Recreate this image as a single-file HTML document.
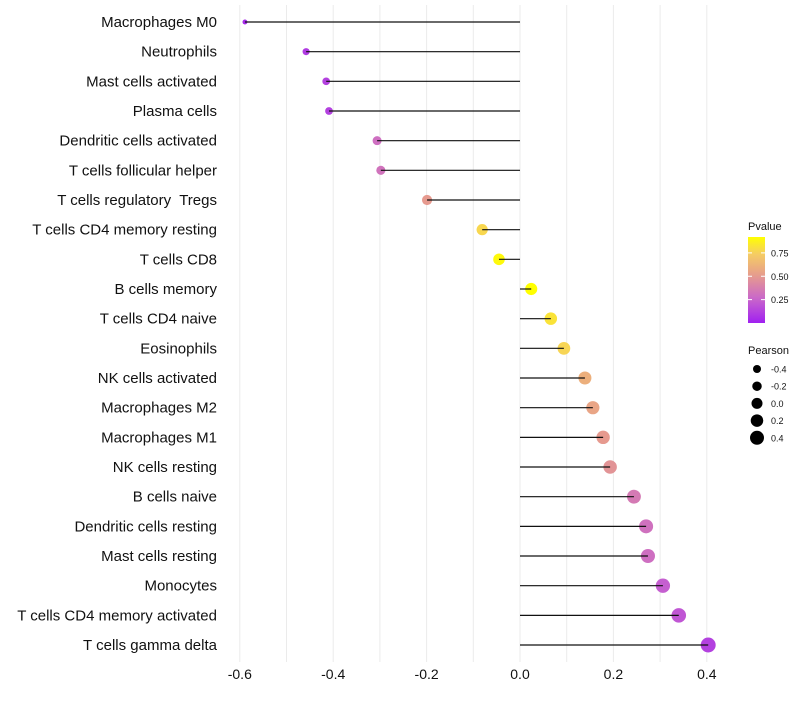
<!DOCTYPE html>
<html><head><meta charset="utf-8"><style>
body{margin:0;background:#fff;font-family:"Liberation Sans",sans-serif;}
svg text{font-family:"Liberation Sans",sans-serif;white-space:pre;}
</style></head><body>
<svg id="chart" width="800" height="700"></svg>
<script>
const categories=["Macrophages M0","Neutrophils","Mast cells activated","Plasma cells","Dendritic cells activated","T cells follicular helper","T cells regulatory  Tregs","T cells CD4 memory resting","T cells CD8","B cells memory","T cells CD4 naive","Eosinophils","NK cells activated","Macrophages M2","Macrophages M1","NK cells resting","B cells naive","Dendritic cells resting","Mast cells resting","Monocytes","T cells CD4 memory activated","T cells gamma delta"];
const pearson=[-0.589,-0.458,-0.415,-0.409,-0.306,-0.298,-0.199,-0.081,-0.045,0.024,0.066,0.094,0.139,0.156,0.178,0.193,0.244,0.27,0.274,0.306,0.340,0.403];
const pvalue=[0.04,0.1,0.12,0.12,0.3,0.32,0.5,0.78,0.9,0.92,0.82,0.77,0.6,0.55,0.5,0.47,0.35,0.31,0.3,0.23,0.2,0.12];
const xTicks=[-0.6,-0.4,-0.2,0.0,0.2,0.4];
const xTickLabels=["-0.6","-0.4","-0.2","0.0","0.2","0.4"];
const colorTicks=[0.25,0.5,0.75];
const sizeLegend=[-0.4,-0.2,0.0,0.2,0.4];

const NS="http://www.w3.org/2000/svg";
const svg=document.getElementById('chart');
function mk(tag,attrs,parent){const e=document.createElementNS(NS,tag);for(const k in attrs)e.setAttribute(k,attrs[k]);(parent||svg).appendChild(e);return e;}
const x=v=>520+v*467;
const y=i=>22+i*29.667;
const vmin=Math.min(...pearson),vmax=Math.max(...pearson);
const r=v=>Math.sqrt(6+Math.max(0,(v-vmin)/(vmax-vmin))*50);
const stops=[[0,[160,32,240]],[0.25,[200,100,205]],[0.5,[230,154,143]],[0.75,[246,207,96]],[0.92,[255,255,0]]];
function col(p){p=Math.max(0,Math.min(0.92,p));for(let i=1;i<stops.length;i++){if(p<=stops[i][0]){const a=stops[i-1],b=stops[i];const t=(p-a[0])/(b[0]-a[0]);const c=a[1].map((v,k)=>Math.round(v+(b[1][k]-v)*t));return `rgb(${c})`;}}return 'rgb(255,255,0)';}

for(let g=-6;g<=4;g++){const gl=mk('line',{x1:x(g/10),x2:x(g/10),y1:5,y2:662,stroke:'#ebebeb','stroke-width':1});

}
xTicks.forEach((t,i)=>{const tx=mk('text',{x:x(t),y:679,'text-anchor':'middle','font-size':14,fill:'#111'});tx.textContent=xTickLabels[i];

});
categories.forEach((c,i)=>{
const lb=mk('text',{x:217,y:y(i)+5,'text-anchor':'end','font-size':15,fill:'#111'});lb.textContent=c;


const pt=mk('circle',{cx:x(pearson[i]),cy:y(i),r:r(pearson[i]),fill:col(pvalue[i])});


const sg=mk('line',{x1:x(0),x2:x(pearson[i]),y1:y(i),y2:y(i),stroke:'#111','stroke-width':1.2});


});
const lt=mk('text',{x:748,y:230,'font-size':11,fill:'#111'});lt.textContent='Pvalue';


const defs=mk('defs',{});const lg=mk('linearGradient',{id:'pg',x1:0,y1:1,x2:0,y2:0},defs);
for(let k=0;k<=10;k++){const p=k/10*0.92;mk('stop',{offset:k/10,'stop-color':col(p)},lg);}
const bar=mk('rect',{x:748,y:237,width:17,height:86,fill:'url(#pg)'});


const cy=p=>323-p/0.92*86;
colorTicks.forEach(t=>{mk('line',{x1:748,x2:752,y1:cy(t),y2:cy(t),stroke:'#fff'});mk('line',{x1:761,x2:765,y1:cy(t),y2:cy(t),stroke:'#fff'});
const tt=mk('text',{x:771,y:cy(t)+3.5,'font-size':9,fill:'#111'});tt.textContent=t.toFixed(2);

});
const st=mk('text',{x:748,y:354,'font-size':11,fill:'#111'});st.textContent='Pearson';


sizeLegend.forEach((v,k)=>{const yy=369+k*17.2;
const c=mk('circle',{cx:757,cy:yy,r:4+(v+0.4)/0.8*3,fill:'#000'});


const tt=mk('text',{x:771,y:yy+3.5,'font-size':9,fill:'#111'});tt.textContent=v.toFixed(1);

});
</script>
</body></html>
